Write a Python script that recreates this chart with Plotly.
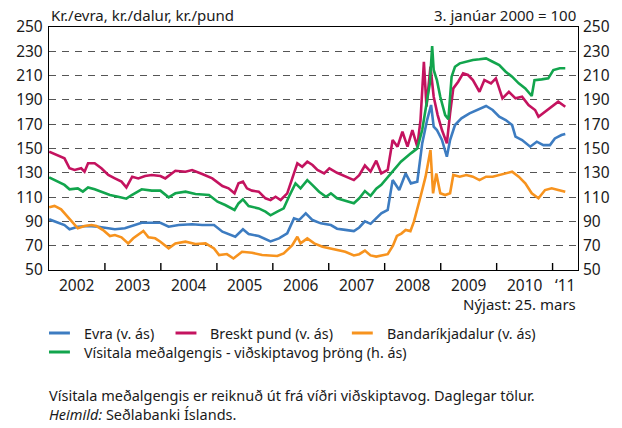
import plotly.graph_objects as go

# Gengi krónu gagnvart evru, pundi og dal, ásamt vísitölu meðalgengis (3. janúar 2000 = 100)

evra_dagar = [
    "2002-01-02", "2002-02-27", "2002-04-12", "2002-05-15", "2002-07-08", "2002-09-13", "2002-11-18",
    "2003-01-23", "2003-03-07", "2003-05-11", "2003-06-25", "2003-08-29", "2003-11-03", "2003-12-29",
    "2004-02-21", "2004-04-26", "2004-07-23", "2004-09-27", "2004-12-13",
    "2005-02-06", "2005-05-01", "2005-06-20", "2005-07-27", "2005-10-01", "2005-12-17",
    "2006-02-10", "2006-04-05", "2006-05-19", "2006-06-21", "2006-08-04", "2006-09-17", "2006-11-10",
    "2007-01-15", "2007-02-24", "2007-04-19", "2007-06-14", "2007-07-19", "2007-08-25", "2007-10-01",
    "2007-11-07", "2007-12-10",
    "2008-01-21", "2008-02-22", "2008-04-05", "2008-05-17", "2008-06-20", "2008-08-01", "2008-09-02",
    "2008-10-04", "2008-10-30", "2008-11-16", "2008-12-07",
    "2009-01-09", "2009-02-10", "2009-03-03", "2009-04-04", "2009-05-16", "2009-07-08", "2009-09-01",
    "2009-10-24", "2009-12-06",
    "2010-01-18", "2010-03-01", "2010-04-12", "2010-05-04", "2010-06-16", "2010-08-08", "2010-09-20",
    "2010-11-02", "2010-12-15",
    "2011-01-16", "2011-02-28", "2011-03-25",
]
evra = [
    91.7, 88.9, 87.0, 83.5, 85.6, 86.2, 85.6,
    84.3, 83.5, 84.3, 86.2, 88.9, 88.9, 88.9,
    85.6, 87.0, 87.6, 87.0, 87.0,
    81.5, 77.4, 83.5, 79.6, 78.0, 73.5,
    76.0, 80.2, 92.5, 91.1, 96.6, 91.1, 88.4,
    87.0, 84.0, 83.0, 82.0, 85.0, 90.0, 88.0,
    93.0, 96.6,
    99.4, 124.0, 115.8, 129.5, 121.3, 122.7, 154.2,
    173.4, 185.8, 167.9, 165.2,
    157.0, 143.2, 157.0, 169.3, 174.8, 178.9, 181.7,
    185.0, 181.7,
    176.2, 173.4, 169.3, 159.7, 157.0, 151.5, 155.6,
    152.8, 152.8,
    158.3, 161.1, 161.9,
]

pund_dagar = [
    "2002-01-02", "2002-02-27", "2002-04-12", "2002-05-15", "2002-06-17", "2002-07-30", "2002-08-21",
    "2002-09-13", "2002-10-26", "2002-12-09",
    "2003-01-23", "2003-03-07", "2003-04-19", "2003-05-21", "2003-06-28", "2003-08-07", "2003-09-20",
    "2003-11-03", "2003-12-29",
    "2004-01-30", "2004-04-05", "2004-06-10", "2004-07-23", "2004-09-27", "2004-12-02",
    "2005-02-06", "2005-03-18", "2005-04-26", "2005-05-22", "2005-06-20", "2005-07-16", "2005-08-18",
    "2005-10-01", "2005-11-14", "2005-12-17",
    "2006-01-19", "2006-02-21", "2006-04-05", "2006-05-08", "2006-06-10", "2006-07-12", "2006-08-14",
    "2006-09-17", "2006-10-19", "2006-12-02",
    "2007-01-05", "2007-02-24", "2007-04-19", "2007-06-14", "2007-07-19", "2007-08-25", "2007-10-01",
    "2007-11-07", "2007-12-10",
    "2008-01-21", "2008-02-22", "2008-03-25", "2008-04-26", "2008-05-29", "2008-06-30", "2008-08-01",
    "2008-08-22", "2008-09-13", "2008-09-30", "2008-10-26", "2008-11-16", "2008-12-12",
    "2009-01-09", "2009-02-10", "2009-03-03", "2009-03-24", "2009-04-25", "2009-05-27", "2009-06-28",
    "2009-07-30", "2009-09-11", "2009-10-13", "2009-11-25", "2009-12-27",
    "2010-02-08", "2010-03-22", "2010-05-04", "2010-06-16", "2010-07-28", "2010-09-09", "2010-10-01",
    "2010-11-13", "2010-12-26",
    "2011-02-07", "2011-03-25",
]
pund = [
    147.4, 144.6, 141.9, 133.7, 132.3, 133.7, 130.9,
    137.8, 137.8, 133.7,
    128.2, 125.4, 122.7, 118.0, 126.8, 125.4, 127.3,
    128.2, 127.3,
    125.4, 131.7, 130.9, 132.3, 129.0, 125.4,
    119.1, 117.2, 113.1, 121.3, 122.7, 117.2, 115.3,
    114.5, 109.0, 107.5,
    110.3, 107.6, 113.1, 125.4, 137.8, 135.0, 139.1,
    136.4, 132.3, 129.5,
    133.6, 130.0, 127.0, 124.0, 128.0, 136.0, 131.0,
    140.0, 129.5,
    132.3, 157.0, 151.5, 163.8, 151.5, 165.2, 151.5,
    173.4, 221.4, 184.4, 217.3, 192.6, 177.5,
    165.2, 154.2, 178.9, 199.5, 205.0, 211.8, 210.5,
    206.3, 196.7, 206.3, 203.6, 207.7,
    191.3, 196.7, 191.3, 192.6, 185.8, 181.7, 176.2,
    180.3, 184.4,
    188.5, 184.4,
]

dalur_dagar = [
    "2002-01-02", "2002-02-06", "2002-03-21", "2002-04-23", "2002-05-27", "2002-07-08", "2002-08-21",
    "2002-10-05", "2002-11-07", "2002-12-20",
    "2003-02-03", "2003-03-07", "2003-04-19", "2003-06-02", "2003-07-05", "2003-08-07", "2003-09-09",
    "2003-10-12", "2003-11-25", "2003-12-29",
    "2004-02-21", "2004-04-05", "2004-06-10", "2004-08-14", "2004-10-19", "2004-12-13",
    "2005-01-15", "2005-03-07", "2005-04-19", "2005-06-14", "2005-08-18", "2005-10-23", "2005-12-17",
    "2006-01-30", "2006-03-13", "2006-05-08", "2006-06-10", "2006-07-01", "2006-08-14", "2006-09-28",
    "2006-11-21",
    "2007-01-15", "2007-02-24", "2007-04-19", "2007-06-14", "2007-07-19", "2007-08-25", "2007-10-01",
    "2007-11-07", "2007-12-10",
    "2008-01-21", "2008-02-24", "2008-03-21", "2008-04-19", "2008-05-17", "2008-06-17", "2008-07-10",
    "2008-08-22", "2008-09-24", "2008-10-26", "2008-11-12", "2008-12-03", "2008-12-29",
    "2009-01-30", "2009-03-03", "2009-03-24", "2009-05-05", "2009-06-17", "2009-07-30", "2009-09-11",
    "2009-10-24", "2009-12-06",
    "2010-01-18", "2010-03-01", "2010-04-12", "2010-05-25", "2010-07-07", "2010-08-18", "2010-10-01",
    "2010-11-13", "2010-12-26",
    "2011-02-07", "2011-03-25",
]
dalur = [
    101.6, 102.7, 99.9, 95.3, 89.8, 84.3, 86.2,
    87.0, 86.2, 82.9,
    78.0, 78.8, 76.9, 71.9, 76.1, 78.8, 82.1,
    76.9, 76.1, 73.3,
    67.8, 71.9, 73.3, 71.4, 71.9, 67.8,
    62.3, 63.1, 59.5, 65.0, 64.2, 62.3, 61.8,
    61.5, 63.7, 70.5, 77.4, 71.9, 76.0, 71.9,
    69.2,
    67.8, 67.0, 65.0, 62.0, 63.0, 66.0, 62.0,
    61.0, 62.0,
    63.0, 70.0, 78.0, 80.0, 83.0, 82.0, 89.8,
    110.3, 126.8, 148.7, 113.1, 129.5, 113.1,
    111.7, 113.1, 128.2, 126.8, 128.2, 126.8, 124.0,
    126.8, 126.8,
    128.2, 129.0, 130.9, 126.8, 121.3, 113.1, 109.0,
    115.8, 117.2,
    115.8, 114.4,
]

visitala_dagar = [
    "2002-01-02", "2002-02-27", "2002-04-12", "2002-05-15", "2002-07-08", "2002-08-10", "2002-09-13",
    "2002-10-26", "2002-12-09",
    "2003-02-03", "2003-03-28", "2003-05-21", "2003-06-25", "2003-08-29", "2003-11-03", "2003-12-29",
    "2004-02-21", "2004-04-05", "2004-06-10", "2004-08-14", "2004-11-10",
    "2005-01-05", "2005-02-24", "2005-04-26", "2005-05-22", "2005-06-20", "2005-07-27", "2005-10-01",
    "2005-11-14", "2005-12-17",
    "2006-01-30", "2006-03-13", "2006-04-16", "2006-05-29", "2006-07-01", "2006-08-14", "2006-09-17",
    "2006-10-30", "2006-12-14",
    "2007-01-15", "2007-02-24", "2007-04-19", "2007-06-14", "2007-07-19", "2007-08-25", "2007-10-01",
    "2007-11-07", "2007-12-10",
    "2008-02-12", "2008-04-16", "2008-06-20", "2008-08-01", "2008-09-02", "2008-10-04", "2008-10-22",
    "2008-11-06", "2008-11-16", "2008-12-07", "2008-12-29",
    "2009-01-30", "2009-02-20", "2009-03-13", "2009-04-04", "2009-05-05", "2009-06-17", "2009-07-30",
    "2009-09-11", "2009-10-24", "2009-12-06",
    "2010-01-18", "2010-03-01", "2010-04-12", "2010-05-25", "2010-07-07", "2010-08-18", "2010-09-05",
    "2010-10-22", "2010-12-04",
    "2011-01-06", "2011-02-17", "2011-03-25",
]
visitala = [
    126.3, 122.7, 120.0, 116.4, 117.2, 114.5, 118.0,
    116.4, 114.5,
    111.7, 110.3, 108.7, 111.7, 116.4, 115.3, 115.3,
    109.8, 113.1, 114.5, 112.5, 111.7,
    106.2, 103.5, 99.4, 104.8, 108.1, 102.6, 100.7,
    98.0, 95.0,
    98.0, 100.7, 110.3, 121.3, 117.2, 124.0, 119.9,
    114.4, 110.3,
    113.1, 109.0, 107.0, 105.0, 109.0, 115.0, 111.0,
    117.0, 120.1,
    129.5, 139.1, 146.0, 150.1, 165.2, 189.9, 203.6,
    234.3, 214.6, 206.3, 192.6,
    177.5, 174.0, 209.1, 217.3, 220.1, 221.4, 222.8,
    223.4, 224.2, 221.4,
    218.7, 213.2, 209.1, 203.6, 199.5, 193.2, 206.3,
    206.9, 207.7,
    214.6, 216.0, 216.0,
]

# Ásar
ar_merki = ["2003-01-01", "2004-01-01", "2005-01-01", "2006-01-01", "2007-01-01",
            "2008-01-01", "2009-01-01", "2010-01-01", "2011-01-01"]
ar_midja = ["2002-07-02", "2003-07-02", "2004-07-02", "2005-07-02", "2006-07-02",
            "2007-07-02", "2008-07-02", "2009-07-02", "2010-07-02", "2011-03-25"]
ar_texti = ["2002", "2003", "2004", "2005", "2006", "2007", "2008", "2009", "2010", "\u201811"]
x_bil = ["2002-01-01", "2011-06-16"]
y_bil = [50, 250]

FONT = "Noto Sans"
TXT = "#1a1a1a"
BLAR = "#3d7cc1"
RAUTT = "#c4135f"
APPELSINA = "#f7931e"
GRAENT = "#12a54d"

# Stærð teiknisvæðis í punktum
W, H = 622, 428
ML, MR, MT, MB = 49, 42, 27, 158
PW, PH = W - ML - MR, H - MT - MB


def px_x(px):
    return (px - ML) / PW


def px_y(py):
    return (H - MB - py) / PH


# (heiti, dagsetningar, gildi, litur, y-ás)
serir = [
    ("Evra (v. ás)", evra_dagar, evra, BLAR, "y"),
    ("Breskt pund (v. ás)", pund_dagar, pund, RAUTT, "y"),
    ("Bandaríkjadalur (v. ás)", dalur_dagar, dalur, APPELSINA, "y"),
    ("Vísitala meðalgengis - viðskiptavog þröng (h. ás)", visitala_dagar, visitala, GRAENT, "y2"),
]

fig = go.Figure()
for nafn, dagar, gildi, litur, yas in serir:
    fig.add_trace(go.Scatter(x=dagar, y=gildi, name=nafn, mode="lines",
                             line=dict(color=litur, width=2.6), yaxis=yas, showlegend=False))

fig.update_layout(
    width=W, height=H,
    margin=dict(l=ML, r=MR, t=MT, b=MB),
    paper_bgcolor="white", plot_bgcolor="white",
    font=dict(family=FONT, size=14, color=TXT),
    xaxis=dict(type="date", range=x_bil, showticklabels=False, ticks="",
               showgrid=False, zeroline=False, showline=True,
               linecolor="black", linewidth=1.3, mirror=True),
    yaxis=dict(range=y_bil, tick0=50, dtick=20, ticks="", showgrid=True,
               gridcolor="#555555", gridwidth=1.2, griddash="7px,6px", zeroline=False,
               showline=True, linecolor="black", linewidth=1.3, mirror=True,
               ticklabelstandoff=2, tickfont=dict(size=15.5, color=TXT)),
    yaxis2=dict(range=y_bil, tick0=50, dtick=20, ticks="", overlaying="y", side="right",
                showgrid=False, zeroline=False, showline=False,
                ticklabelstandoff=4, tickfont=dict(size=15.5, color=TXT)),
    showlegend=False,
)

# Strik við áramót, upp frá lárétta ásnum
for dags in ar_merki:
    fig.add_shape(type="line", xref="x", yref="paper", x0=dags, x1=dags,
                  y0=0, y1=7 / PH, line=dict(color="black", width=1.4), layer="above")

# Ártöl miðjuð á hvert ár
for dags, texti in zip(ar_midja, ar_texti):
    fig.add_annotation(text=texti, xref="x", yref="paper", x=dags, y=px_y(285),
                       xanchor="center", yanchor="middle", showarrow=False,
                       font=dict(size=15.5, color=TXT))

fig.add_annotation(text="Kr./evra, kr./dalur, kr./pund", xref="paper", yref="paper",
                   x=0, y=1, xanchor="left", yanchor="bottom", yshift=0, showarrow=False,
                   font=dict(size=15, color=TXT))
fig.add_annotation(text="3. janúar 2000 = 100", xref="paper", yref="paper",
                   x=1, y=1, xanchor="right", yanchor="bottom", yshift=0, showarrow=False,
                   font=dict(size=15, color=TXT))
fig.add_annotation(text="Nýjast: 25. mars", xref="paper", yref="paper",
                   x=1, y=px_y(304), xanchor="right", yanchor="middle", showarrow=False,
                   font=dict(size=15, color=TXT))

# Skýringar
skyring = [
    (0, BLAR, 49, 333),
    (1, RAUTT, 176, 333),
    (2, APPELSINA, 353, 333),
    (3, GRAENT, 49, 352),
]
for i, litur, x0, y0 in skyring:
    fig.add_shape(type="line", xref="paper", yref="paper",
                  x0=px_x(x0), x1=px_x(x0 + 21), y0=px_y(y0), y1=px_y(y0),
                  line=dict(color=litur, width=3))
    fig.add_annotation(text=serir[i][0], xref="paper", yref="paper",
                       x=px_x(x0 + 33), y=px_y(y0), xanchor="left", yanchor="middle",
                       showarrow=False, font=dict(size=14.3, color=TXT))

fig.add_annotation(text="Vísitala meðalgengis er reiknuð út frá víðri viðskiptavog. Daglegar tölur."
                        "<br><i>Heimild:</i> Seðlabanki Íslands.",
                   xref="paper", yref="paper", x=px_x(47), y=px_y(404), xanchor="left",
                   yanchor="middle", align="left", showarrow=False,
                   font=dict(size=14.5, color=TXT))

fig.write_html("out.html")
